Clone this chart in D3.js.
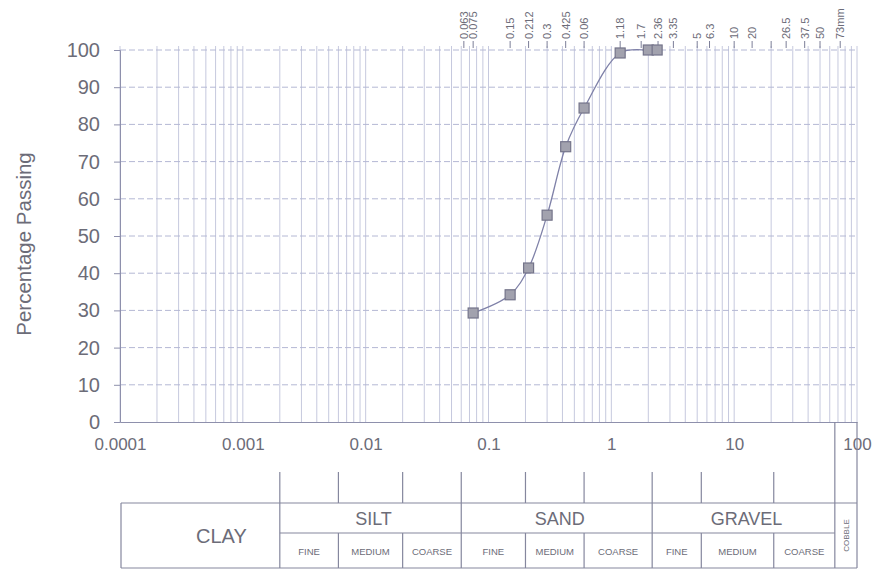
<!DOCTYPE html>
<html>
<head>
<meta charset="utf-8">
<script src="https://cdn.jsdelivr.net/npm/d3@7"></script>
<style>
  body { margin: 0; background: #fff; }
  svg { display: block; }
  text { font-family: "Liberation Sans", Arial, sans-serif; fill: #6c6c78; }
</style>
</head>
<body>
<div class="chart"></div>
<script>
// sieve analysis results
const sieveSizes = [0.075, 0.15, 0.212, 0.3, 0.425, 0.6, 1.18, 2, 2.36];
const percentPassing = [29.3, 34.2, 41.4, 55.6, 74, 84.4, 99.2, 100, 100];

// sieve marks along the top (positions in mm and the text printed by them)
const sieveTickValues = [0.063, 0.075, 0.15, 0.212, 0.3, 0.425, 0.6, 1.18, 1.75, 2.4, 3.2, 5, 6.3, 10, 14, 20, 26.5, 37.5, 50, 73];
const sieveTickLabels = ['0.063', '0.075', '0.15', '0.212', '0.3', '0.425', '0.06', '1.18', '1.7', '2.36', '3.35', '5', '6.3', '10', '20', '', '26.5', '37.5', '50', '73mm'];

const xTickValues = [0.0001, 0.001, 0.01, 0.1, 1, 10, 100];
const xTickLabels = ['0.0001', '0.001', '0.01', '0.1', '1', '10', '100'];
const yTickValues = [0, 10, 20, 30, 40, 50, 60, 70, 80, 90, 100];

// soil classification bands (grain size in mm)
const mainBands = ['CLAY', 'SILT', 'SAND', 'GRAVEL'];
const mainBounds = [0.0001, 0.002, 0.06, 2.15, 66];
const subBands = ['FINE', 'MEDIUM', 'COARSE', 'FINE', 'MEDIUM', 'COARSE', 'FINE', 'MEDIUM', 'COARSE'];
const subBounds = [0.002, 0.006, 0.02, 0.06, 0.2, 0.6, 2.15, 5.4, 21, 66];

const width = 878, height = 569;
const ink = '#6c6c78', gridColor = '#c6c9de', lineColor = '#7f81a8';

const svg = d3.select('.chart').append('svg')
  .attr('width', width)
  .attr('height', height);

const x = d3.scaleLog().domain([0.0001, 100]).range([120, 857]);
const y = d3.scaleLinear().domain([0, 100]).range([422, 50]);

// vertical grid at every log step
const gridX = [];
for (let e = -4; e < 2; e++) {
  for (let m = 1; m < 10; m++) gridX.push(m * Math.pow(10, e));
}
gridX.push(100);

svg.append('g').selectAll('line')
  .data(gridX)
  .enter()
  .append('line')
  .attr('x1', d => x(d)).attr('x2', d => x(d))
  .attr('y1', y(100) - 4).attr('y2', y(0))
  .attr('stroke', gridColor)
  .attr('stroke-width', 1);

svg.append('g').selectAll('line')
  .data(yTickValues.filter(d => d > 0))
  .enter()
  .append('line')
  .attr('x1', x(0.0001)).attr('x2', x(100))
  .attr('y1', d => y(d)).attr('y2', d => y(d))
  .attr('stroke', '#b4b8d4')
  .attr('stroke-dasharray', '6,3');

// y axis
const yAxis = svg.append('g')
  .attr('transform', `translate(${x(0.0001)},0)`)
  .call(d3.axisLeft(y).tickValues(yTickValues).tickSize(6).tickPadding(14));
yAxis.select('.domain').attr('stroke', '#8e90ac');
yAxis.selectAll('.tick line').attr('stroke', '#8e90ac');
yAxis.selectAll('.tick text').style('font-size', '20px').attr('fill', ink);

// x axis
const xAxis = svg.append('g')
  .attr('transform', `translate(0,${y(0)})`)
  .call(d3.axisBottom(x).tickValues(xTickValues).tickFormat((d, i) => xTickLabels[i]).tickSize(0).tickPadding(16));
xAxis.select('.domain').attr('stroke', '#8e90ac');
xAxis.selectAll('.tick text').style('font-size', '17px').attr('fill', ink);

// axis title
svg.append('text')
  .attr('transform', 'translate(31,244) rotate(-90)')
  .attr('text-anchor', 'middle')
  .style('font-size', '20.5px')
  .text('Percentage Passing');

// sieve labels along the top
const sieve = svg.append('g').selectAll('g')
  .data(sieveTickValues)
  .enter()
  .append('g')
  .attr('transform', d => `translate(${x(d)},0)`);
sieve.append('line')
  .attr('y1', 41).attr('y2', 48)
  .attr('stroke', '#7c7e98');
sieve.append('text')
  .attr('transform', 'translate(4,39) rotate(-90)')
  .style('font-size', '11px')
  .text((d, i) => sieveTickLabels[i]);

// grading curve
const points = sieveSizes.map((d, i) => [d, percentPassing[i]]);
const line = d3.line()
  .x(d => x(d[0]))
  .y(d => y(d[1]))
  .curve(d3.curveCatmullRom);

svg.append('path')
  .datum(points)
  .attr('d', line)
  .attr('fill', 'none')
  .attr('stroke', lineColor)
  .attr('stroke-width', 1.3);

svg.append('g').selectAll('rect')
  .data(points)
  .enter()
  .append('rect')
  .attr('x', d => x(d[0]) - 5)
  .attr('y', d => y(d[1]) - 5)
  .attr('width', 10).attr('height', 10)
  .attr('fill', '#a2a2ae')
  .attr('stroke', '#74748a')
  .attr('stroke-width', 1.2);

// classification table
const tTop = 503, tMid = 533, tBot = 568, tAbove = 472;
const table = svg.append('g').attr('stroke', '#85879e').attr('stroke-width', 1.2);
const xL = x(0.0001) + 1, xR = x(100);

table.append('line').attr('x1', xL).attr('x2', xR).attr('y1', tTop).attr('y2', tTop);
table.append('line').attr('x1', xL).attr('x2', xR).attr('y1', tBot).attr('y2', tBot);
table.append('line').attr('x1', x(0.002)).attr('x2', x(66)).attr('y1', tMid).attr('y2', tMid);
table.append('line').attr('x1', xL).attr('x2', xL).attr('y1', tTop).attr('y2', tBot);

// sub-band dividers: drawn above the table and in the lower row
table.selectAll('.sub')
  .data(subBounds.filter(d => !mainBounds.includes(d)))
  .enter()
  .each(function (d) {
    d3.select(this).append('line')
      .attr('x1', x(d)).attr('x2', x(d)).attr('y1', tAbove).attr('y2', tTop);
    d3.select(this).append('line')
      .attr('x1', x(d)).attr('x2', x(d)).attr('y1', tMid).attr('y2', tBot);
  });

// main band dividers run full height
table.selectAll('.main')
  .data([0.002, 0.06, 2.15])
  .enter()
  .append('line')
  .attr('x1', d => x(d)).attr('x2', d => x(d))
  .attr('y1', tAbove).attr('y2', tBot);

// cobble column edges go up to the axis
table.selectAll('.cob')
  .data([66, 100])
  .enter()
  .append('line')
  .attr('x1', d => x(d)).attr('x2', d => x(d))
  .attr('y1', y(0)).attr('y2', tBot);

svg.append('text')
  .attr('x', (xL + x(0.002)) / 2 + 21)
  .attr('y', (tTop + tBot) / 2 + 7)
  .attr('text-anchor', 'middle')
  .style('font-size', '20px')
  .text(mainBands[0]);

svg.append('g').selectAll('text')
  .data(mainBands.slice(1))
  .enter()
  .append('text')
  .attr('x', (d, i) => (x(mainBounds[i + 1]) + x(mainBounds[i + 2])) / 2 + 3)
  .attr('y', tMid - 8)
  .attr('text-anchor', 'middle')
  .style('font-size', '18px')
  .text(d => d);

svg.append('g').selectAll('text')
  .data(subBands)
  .enter()
  .append('text')
  .attr('x', (d, i) => (x(subBounds[i]) + x(subBounds[i + 1])) / 2)
  .attr('y', (tMid + tBot) / 2 + 4)
  .attr('text-anchor', 'middle')
  .style('font-size', '9.5px')
  .text(d => d);

svg.append('text')
  .attr('transform', `translate(${(x(66) + x(100)) / 2 + 3},${(tTop + tBot) / 2}) rotate(-90)`)
  .attr('text-anchor', 'middle')
  .style('font-size', '8px')
  .text('COBBLE');
</script>
</body>
</html>
